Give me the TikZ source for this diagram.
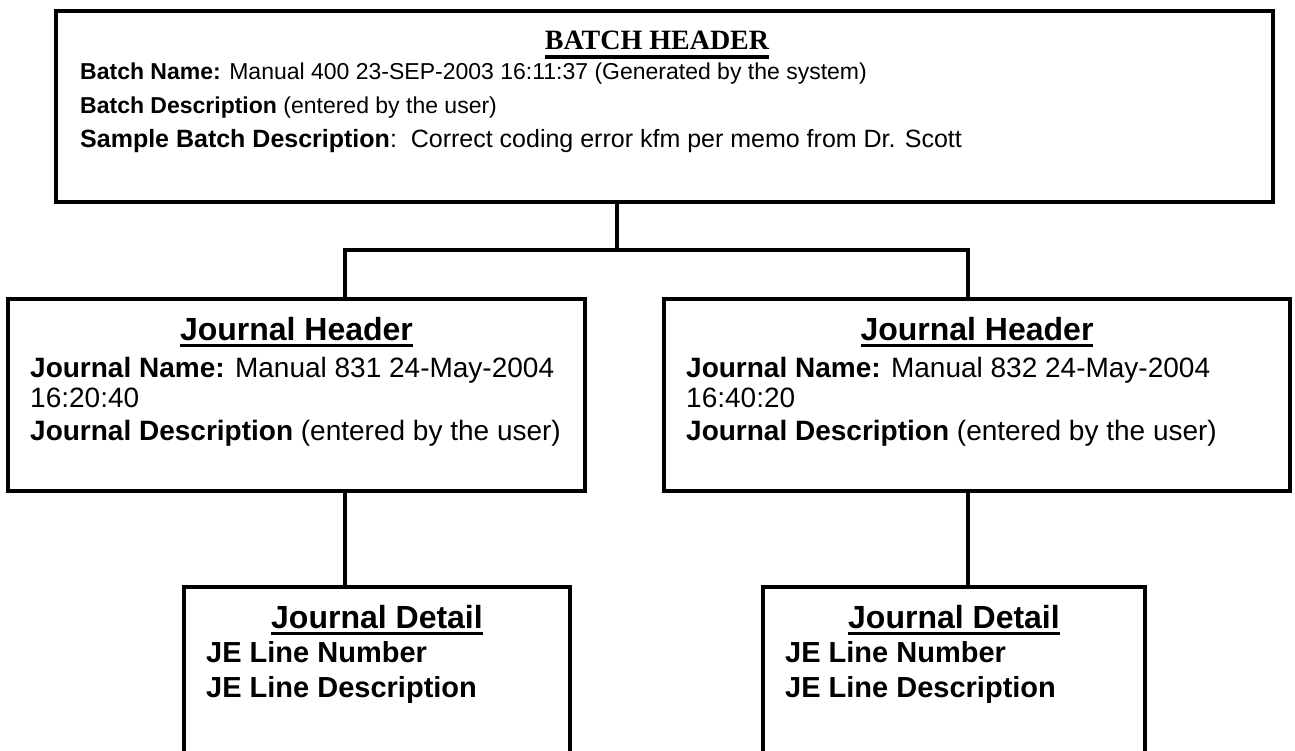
\documentclass[tikz,border=0pt]{standalone}
\usepackage{fontspec}
\setmainfont{Liberation Sans}
\newfontfamily\serifhead{Liberation Serif}
\newsavebox\ulsave
% underlined title: #1 = drop of the rule, #2 = text
\newcommand\ultitle[2]{\sbox\ulsave{#2}\rlap{\rule[-#1]{\wd\ulsave}{3.5pt}}\usebox\ulsave}
\tikzset{
  box/.style={draw,line width=3.2pt,rectangle,inner sep=0pt},
  link/.style={line width=3.2pt},
  txt/.style={inner sep=0pt,anchor=base west,font=\fontsize{28}{30}\selectfont},
  head/.style={inner sep=0pt,anchor=base,font=\bfseries\fontsize{32}{34}\selectfont}
}
\begin{document}
\begin{tikzpicture}[x=1pt,y=-1pt]
	\clip(0,0)rectangle(1295,751);
	% boxes
	\node[box,minimum width=1217pt,minimum height=191pt](batch)at(664.5,106.5){};
	\node[box,minimum width=577pt,minimum height=192pt](jhL)at(296.5,395){};
	\node[box,minimum width=626pt,minimum height=192pt](jhR)at(977,395){};
	\node[box,minimum width=386pt,minimum height=240pt](jdL)at(377,707){};
	\node[box,minimum width=382pt,minimum height=240pt](jdR)at(954,707){};
	% batch header text
	\node[head,font=\serifhead\bfseries\fontsize{28}{30}\selectfont](bt)at(657,50){\ultitle{9pt}{BATCH HEADER}};
	\node[txt,font=\fontsize{23}{25}\selectfont](b1)at(80,80){\textbf{Batch Name:} Manual 400 23-SEP-2003 16:11:37 (Generated by the system)};
	\node[txt,font=\fontsize{23}{25}\selectfont](b2)at(80,114){\textbf{Batch Description} (entered by the user)};
	\node[txt,font=\fontsize{25}{27}\selectfont](b3)at(80,148){\textbf{Sample Batch Description}:\ \ Correct coding error kfm per memo from Dr. Scott};
	% journal headers
	\node[head](jtL)at(296.5,340){\ultitle{7pt}{Journal Header}};
	\node[txt](jL1)at(30,377){\textbf{Journal Name:} Manual 831 24-May-2004};
	\node[txt](jL2)at(30,407){16:20:40};
	\node[txt](jL3)at(30,440){\textbf{Journal Description} (entered by the user)};
	\node[head](jtR)at(977,340){\ultitle{7pt}{Journal Header}};
	\node[txt](jR1)at(686,377){\textbf{Journal Name:} Manual 832 24-May-2004};
	\node[txt](jR2)at(686,407){16:40:20};
	\node[txt](jR3)at(686,440){\textbf{Journal Description} (entered by the user)};
	% journal details
	\node[head](dtL)at(377,628){\ultitle{7pt}{Journal Detail}};
	\node[txt,font=\bfseries\fontsize{29}{32}\selectfont](dL1)at(206,662){JE Line Number};
	\node[txt,font=\bfseries\fontsize{29}{32}\selectfont](dL2)at(206,697){JE Line Description};
	\node[head](dtR)at(954,628){\ultitle{7pt}{Journal Detail}};
	\node[txt,font=\bfseries\fontsize{29}{32}\selectfont](dR1)at(785,662){JE Line Number};
	\node[txt,font=\bfseries\fontsize{29}{32}\selectfont](dR2)at(785,697){JE Line Description};
	% connectors
	\coordinate(fork)at(617,250);
	\coordinate(forkL)at(345,250);
	\coordinate(forkR)at(968,250);
	\draw[link](fork|-batch.south)--(fork);
	\draw[link](forkL|-jhL.north)--(forkL)--(forkR)--(forkR|-jhR.north);
	\draw[link](forkL|-jhL.south)--(forkL|-jdL.north);
	\draw[link](forkR|-jhR.south)--(forkR|-jdR.north);
\end{tikzpicture}
\end{document}
